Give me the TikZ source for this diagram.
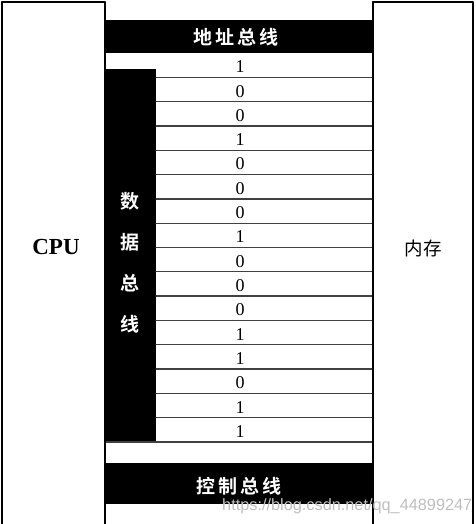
\documentclass[tikz,border=0pt]{standalone}
\usepackage{fontspec}
\setmainfont{Liberation Serif}
\newfontfamily\cjkbold{Noto Sans CJK SC Bold}
\newfontfamily\cjk{Noto Sans CJK SC}
\newfontfamily\wmfont{Liberation Sans}
\begin{document}
\begin{tikzpicture}[
	x=1pt,
	y=-1pt,
	line join=round,
	line cap=round,
	box/.style={draw, line width=1.4pt},
	bus/.style={fill=black},
	buslabel/.style={text=white, font=\cjkbold\fontsize{19}{19}\selectfont, inner sep=0pt},
	]
\useasboundingbox (0,0) rectangle (475,524);
% CPU and memory
\draw[box] (2,2) rectangle (105,540);
\draw[box] (373,2) rectangle (473,540);
\node (cpu) at (56,247) {\fontsize{23}{23}\selectfont\bfseries CPU};
\node (mem) at (423,248) {\cjk\fontsize{18.5}{18.5}\selectfont 内存};
% address bus
\fill[bus] (105,20) rectangle (373,53);
\node[buslabel] (addr) at (236,37) {地\,址\,总\,线};
% data bus
\fill[bus] (105,69) rectangle (156,443);
\foreach \c [count=\i] in {数, 据, 总, 线}
	\node[buslabel] (data\i) at (130,161+40.7*\i) {\c};
% bits
\foreach \b [count=\i] in {1,0,0,1,0,0,0,1,0,0,0,1,1,0,1,1}
	{
	\node (bit\i) at (240,53+24.31*\i-10.5) {\fontsize{18}{18}\selectfont\b};
	\draw[line width=1.3pt, black!75] (156,53+24.31*\i) -- (373,53+24.31*\i);
	}
\draw[line width=1.3pt, black!75] (105,442) -- (156,442);
% control bus
\fill[bus] (105,463) rectangle (373,504);
\node[buslabel] (ctrl) at (239,486) {控\,制\,总\,线};
\draw[box] (105,2) -- (105,540);
\draw[box] (373,2) -- (373,540);
\node[anchor=west, text=black!25, inner sep=0pt] (mark) at (222,506)
	{\wmfont\fontsize{16.3}{16.3}\selectfont https://blog.csdn.net/qq\_44899247};
\end{tikzpicture}
\end{document}
